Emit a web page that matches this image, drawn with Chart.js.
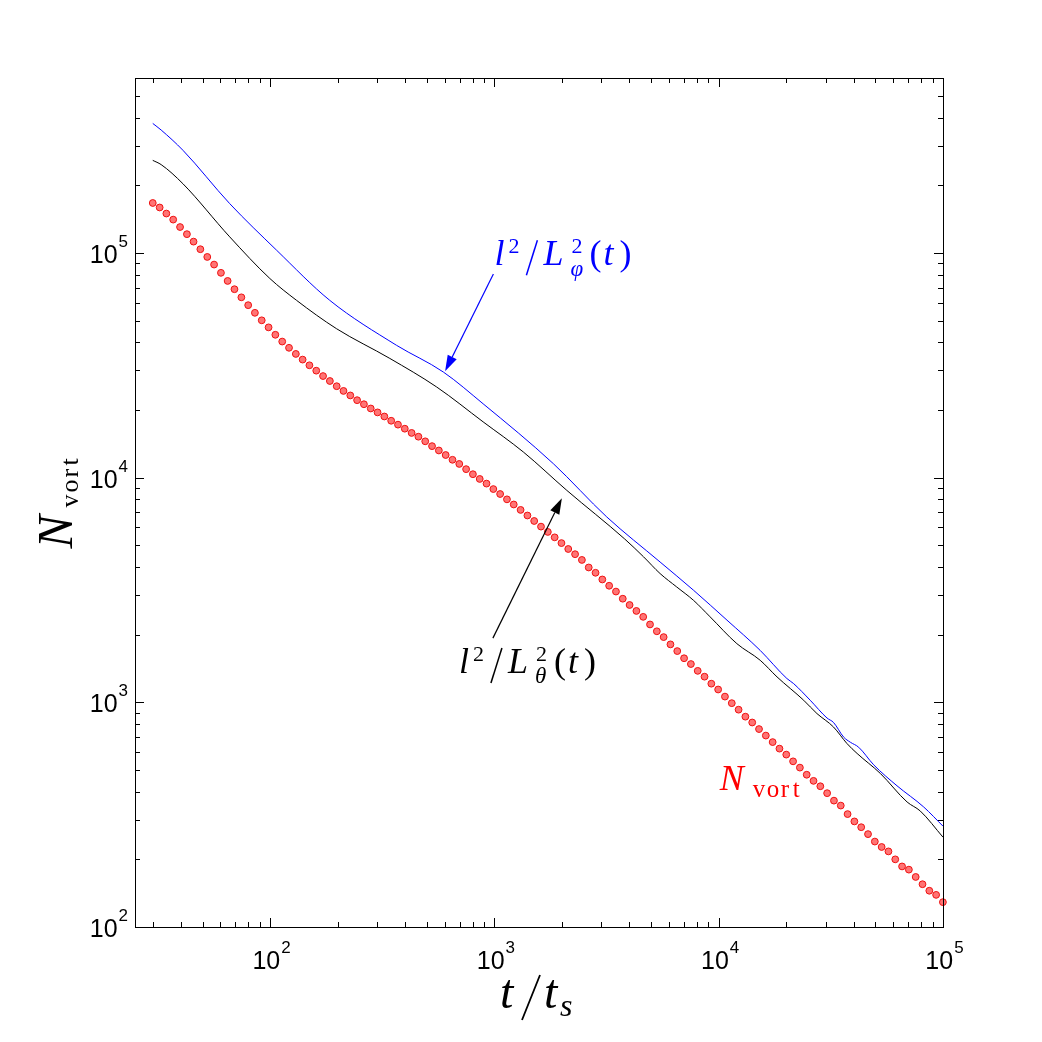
<!DOCTYPE html>
<html>
<head>
<meta charset="utf-8">
<script src="https://cdn.jsdelivr.net/npm/chart.js@4.4.0/dist/chart.umd.min.js"></script>
<style>
  html, body { margin: 0; padding: 0; background: #fff; }
  #wrap { width: 1042px; height: 1042px; }
</style>
</head>
<body>
<div id="wrap"><canvas id="myChart" width="1042" height="1042"></canvas></div>
<script>
// N_vort samples (red dots)
const tRed = [30.0, 32.2, 34.5, 37.0, 39.7, 42.6, 45.6, 48.9, 52.5, 56.3, 60.4, 64.7, 69.4, 74.5, 79.9, 85.6, 91.8, 98.5,
    105.6, 113.3, 121.5, 130.3, 139.7, 149.8, 160.7, 172.3, 184.8, 198.2, 212.5, 227.9, 244.4, 262.1, 281.1, 301.5,
    323.3, 346.7, 371.8, 398.7, 427.6, 458.6, 491.8, 527.4, 565.6, 606.6, 650.5, 697.6, 748.2, 802.3, 860.4, 922.7,
    989.6, 1061, 1138, 1220, 1309, 1404, 1505, 1614, 1731, 1857, 1991, 2135, 2290, 2456, 2634, 2825, 3029, 3249,
    3484, 3736, 4007, 4297, 4608, 4942, 5300, 5684, 6095, 6537, 7010, 7518, 8063, 8647, 9273, 9945, 10665, 11438,
    12266, 13155, 14108, 15130, 16225, 17401, 18661, 20012, 21462, 23016, 24683, 26471, 28389, 30444, 32650, 35015,
    37550, 40270, 43187, 46314, 49668, 53266, 57123, 61260, 65697, 70455, 75558, 81030, 86898, 93192, 99900];
const nRed = [166700, 159200, 149600, 140600, 130300, 121100, 112200, 103800, 95900, 88700,
    81500, 75000, 68900, 63400, 58500, 54100, 50100, 46600, 43200, 40300,
    37800, 35500, 33500, 31600, 29900, 28300, 26900, 25500, 24300, 23200,
    22100, 21200, 20300, 19500, 18700, 17900, 17200, 16500, 15800, 15200,
    14500, 13800, 13200, 12600, 12000, 11500, 10900, 10350, 9860, 9400,
    8890, 8450, 8000, 7590, 7180, 6780, 6410, 6050, 5730, 5420,
    5110, 4810, 4560, 4300, 3980, 3770, 3520, 3300, 3110, 2890,
    2710, 2550, 2400, 2220, 2070, 1950, 1810, 1690, 1570, 1480,
    1380, 1300, 1210, 1140, 1060, 991, 927, 863, 813, 760,
    711, 665, 622, 585, 546, 512, 476, 447, 423, 394,
    365, 347, 318, 295, 278, 259, 240, 227, 217, 200,
    186, 180, 167, 155, 145, 139, 129];

// l^2 / L_phi^2(t)  (blue)
const tBlue = [30, 32.7, 40.9, 66.1, 106.9, 184.5, 366, 592, 891, 1832, 3170, 5480, 7730, 10890, 15310, 20140,
    21580, 25590, 30410, 32510, 36060, 38640, 42070, 49090, 62370, 82040, 100000];
const nBlue = [376700, 352000, 286000, 165600, 102800, 61500, 38800, 29500, 21300, 11530, 6680, 4210, 3150, 2320, 1702, 1276,
    1211, 1021, 851, 813, 700, 664, 631, 527, 425, 342, 281];

// l^2 / L_theta^2(t)  (black)
const tBlack = [30, 32.7, 40.9, 66.1, 99.8, 131.2, 197.7, 342, 553, 891, 1346, 2104, 3810, 4624, 5480, 6500, 7730, 9160,
    12050, 15310, 18200, 23930, 27420, 32510, 37330, 41400, 52600, 69180, 79250, 100000];
const nBlack = [258000, 247000, 203000, 117800, 76900, 61500, 46000, 33900, 25300, 17700, 13000, 8770, 5330, 4440, 3740, 3260, 2840, 2400,
    1824, 1538, 1297, 1021, 891, 776, 655, 592, 482, 360, 328, 251];

const xMajor = [1e2, 1e3, 1e4, 1e5];
const yMajor = [1e2, 1e3, 1e4, 1e5];

const IT = s => 'italic ' + s + 'px "Liberation Serif"';
const RM = s => s + 'px "Liberation Serif"';

function pts(xs, ys) {
    return xs.map((x, i) => ({ x: x, y: ys[i] }));
}

function minorTicks(min, max) {
    var out = [];
    for (var d = 1; d <= 1e6; d *= 10) {
        for (var k = 2; k <= 9; k++) {
            var v = k * d;
            if (v > min && v <= max) out.push(v);
        }
    }
    return out;
}

function arrow(ctx, x1, y1, x2, y2, color) {
    var ang = Math.atan2(y2 - y1, x2 - x1), len = 16, half = 5;
    var bx = x2 - len * Math.cos(ang), by = y2 - len * Math.sin(ang);
    ctx.strokeStyle = color;
    ctx.fillStyle = color;
    ctx.lineWidth = 1.2;
    ctx.beginPath();
    ctx.moveTo(x1, y1);
    ctx.lineTo(bx, by);
    ctx.stroke();
    ctx.beginPath();
    ctx.moveTo(x2, y2);
    ctx.lineTo(bx + half * Math.sin(ang), by - half * Math.cos(ang));
    ctx.lineTo(bx - half * Math.sin(ang), by + half * Math.cos(ang));
    ctx.closePath();
    ctx.fill();
}

function mathText(ctx, x, y, color, runs) {
    ctx.fillStyle = color;
    ctx.strokeStyle = color;
    ctx.textAlign = 'left';
    ctx.textBaseline = 'alphabetic';
    runs.forEach(r => {
        if (r.slash) {
            ctx.lineWidth = r.w || 1.5;
            ctx.beginPath();
            ctx.moveTo(x + r.slash[0], y + r.slash[1]);
            ctx.lineTo(x + r.slash[2], y + r.slash[3]);
            ctx.stroke();
            return;
        }
        ctx.font = r.f;
        ctx.fillText(r.s, x + r.dx, y + (r.dy || 0));
    });
}

function lLabel(sub, subDy) {
    return [
        { s: 'l', f: IT(36), dx: 1 },
        { s: '2', f: RM(22), dx: 15, dy: -12 },
        { slash: [33, 10, 44, -25] },
        { s: 'L', f: IT(36), dx: 50 },
        { s: '2', f: RM(22), dx: 78, dy: -12 },
        { s: sub, f: IT(23), dx: 77, dy: subDy },
        { s: '(', f: RM(36), dx: 96 },
        { s: 't', f: IT(36), dx: 110 },
        { s: ')', f: RM(36), dx: 126 }
    ];
}

const decor = {
    id: 'decor',
    afterDatasetsDraw(chart) {
        var ctx = chart.ctx, a = chart.chartArea;
        var xs = chart.scales.x, ys = chart.scales.y;
        ctx.save();

        // box
        ctx.strokeStyle = '#000';
        ctx.lineWidth = 1;
        ctx.strokeRect(a.left + 0.5, a.top + 0.5, a.right - a.left, a.bottom - a.top);

        // inward ticks on all four sides
        ctx.beginPath();
        xMajor.concat(minorTicks(xs.min, xs.max)).forEach(v => {
            var len = xMajor.includes(v) ? 9 : 5;
            var p = Math.round(xs.getPixelForValue(v)) + 0.5;
            ctx.moveTo(p, a.bottom); ctx.lineTo(p, a.bottom - len);
            ctx.moveTo(p, a.top); ctx.lineTo(p, a.top + len);
        });
        yMajor.concat(minorTicks(ys.min, ys.max)).forEach(v => {
            var len = yMajor.includes(v) ? 9 : 5;
            var p = Math.round(ys.getPixelForValue(v)) + 0.5;
            ctx.moveTo(a.left, p); ctx.lineTo(a.left + len, p);
            ctx.moveTo(a.right, p); ctx.lineTo(a.right - len, p);
        });
        ctx.stroke();

        // tick labels 10^k
        ctx.fillStyle = '#000';
        ctx.textBaseline = 'alphabetic';
        ctx.textAlign = 'left';
        xMajor.forEach(v => {
            var e = String(Math.round(Math.log10(v)));
            ctx.font = '25px "Liberation Sans"';
            var w1 = ctx.measureText('10').width;
            ctx.font = '17px "Liberation Sans"';
            var w2 = ctx.measureText(e).width;
            var x0 = xs.getPixelForValue(v) - (w1 + w2) / 2 + 1;
            ctx.font = '25px "Liberation Sans"';
            ctx.fillText('10', x0, a.bottom + 42);
            ctx.font = '17px "Liberation Sans"';
            ctx.fillText(e, x0 + w1 + 1, a.bottom + 26);
        });
        yMajor.forEach(v => {
            var e = String(Math.round(Math.log10(v)));
            var py = ys.getPixelForValue(v);
            ctx.font = '17px "Liberation Sans"';
            var w2 = ctx.measureText(e).width;
            ctx.font = '25px "Liberation Sans"';
            var w1 = ctx.measureText('10').width;
            var x0 = a.left - 7 - w2 - w1 - 1;
            ctx.fillText('10', x0, py + 10);
            ctx.font = '17px "Liberation Sans"';
            ctx.fillText(e, x0 + w1 + 1, py - 6);
        });

        // axis titles
        var cx = (a.left + a.right) / 2, cy = (a.top + a.bottom) / 2;
        mathText(ctx, cx - 39, a.bottom + 81, '#000', [
            { s: 't', f: IT(48), dx: 0 },
            { slash: [22, 12, 40, -33], w: 1.8 },
            { s: 't', f: IT(48), dx: 44 },
            { s: 's', f: IT(32), dx: 60, dy: 8 }
        ]);
        ctx.save();
        ctx.translate(a.left - 63, cy + 46);
        ctx.rotate(-Math.PI / 2);
        mathText(ctx, 0, 0, '#000', [
            { s: 'N', f: IT(50), dx: 0 },
            { s: 'v', f: RM(26), dx: 41, dy: 6 },
            { s: 'o', f: RM(26), dx: 56, dy: 6 },
            { s: 'r', f: RM(26), dx: 71, dy: 6 },
            { s: 't', f: RM(26), dx: 83, dy: 6 }
        ]);
        ctx.restore();

        // annotations, anchored in data coordinates
        var P = (t, n) => [xs.getPixelForValue(t), ys.getPixelForValue(n)];
        var b1 = P(990, 80500), b2 = P(603, 29700);
        arrow(ctx, b1[0], b1[1], b2[0], b2[1], '#0000ff');
        var bl = P(990, 88000);
        mathText(ctx, bl[0], bl[1], '#0000ff', lLabel('\u03c6', 11));

        var k1 = P(985, 1930), k2 = P(2000, 8100);
        arrow(ctx, k1[0], k1[1], k2[0], k2[1], '#000000');
        var kl = P(688, 1350);
        mathText(ctx, kl[0], kl[1], '#000000', lLabel('\u03b8', 10));

        var rl = P(10100, 405);
        mathText(ctx, rl[0], rl[1], '#ff0000', [
            { s: 'N', f: IT(36), dx: 0 },
            { s: 'v', f: RM(25), dx: 33, dy: 7 },
            { s: 'o', f: RM(25), dx: 47, dy: 7 },
            { s: 'r', f: RM(25), dx: 61, dy: 7 },
            { s: 't', f: RM(25), dx: 73, dy: 7 }
        ]);

        ctx.restore();
    }
};

var ctx = document.getElementById('myChart').getContext('2d');
var myChart = new Chart(ctx, {
    type: 'scatter',
    data: {
        datasets: [{
            label: 'l2/Lphi2',
            data: pts(tBlue, nBlue),
            showLine: true,
            borderColor: '#0000ff',
            borderWidth: 1,
            pointRadius: 0,
            cubicInterpolationMode: 'monotone'
        }, {
            label: 'l2/Ltheta2',
            data: pts(tBlack, nBlack),
            showLine: true,
            borderColor: '#000000',
            borderWidth: 1,
            pointRadius: 0,
            cubicInterpolationMode: 'monotone'
        }, {
            label: 'Nvort',
            data: pts(tRed, nRed),
            showLine: false,
            pointRadius: 3.4,
            pointBorderWidth: 1,
            backgroundColor: 'rgba(255, 70, 70, 0.75)',
            borderColor: '#ee1111',
            clip: false
        }]
    },
    options: {
        responsive: false,
        animation: false,
        devicePixelRatio: 1,
        layout: { padding: { left: 135, top: 78, right: 99, bottom: 115 } },
        plugins: { legend: { display: false }, tooltip: { enabled: false } },
        scales: {
            x: { type: 'logarithmic', min: 25, max: 1e5, display: false },
            y: { type: 'logarithmic', min: 100, max: 6e5, display: false }
        }
    },
    plugins: [decor]
});
</script>
</body>
</html>
